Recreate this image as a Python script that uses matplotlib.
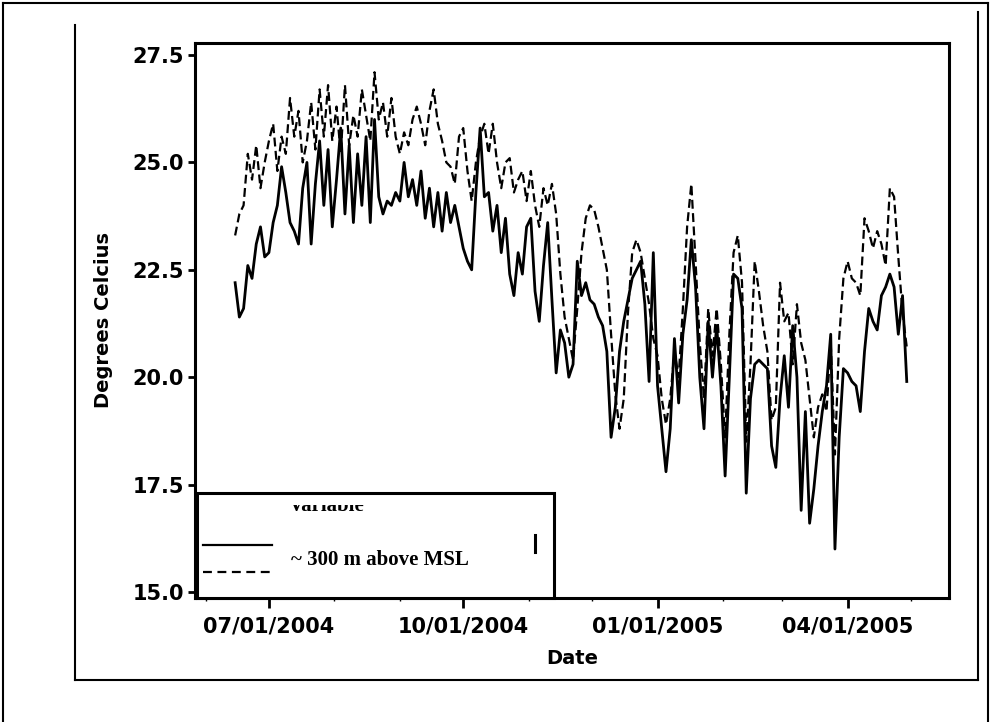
import numpy as np
import pandas as pd
import matplotlib
matplotlib.use("Agg")
import matplotlib.pyplot as plt
import matplotlib.dates as mdates
from matplotlib.lines import Line2D
from matplotlib.patches import Rectangle

# readings every second day, 15 Jun 2004 - 29 Apr 2005
dates = pd.date_range("2004-06-15", periods=160, freq="2D")

temp_solid = [
    22.2, 21.4, 21.6, 22.6, 22.3, 23.1, 23.5, 22.8, 22.9, 23.6,
    24.0, 24.9, 24.3, 23.6, 23.4, 23.1, 24.4, 25.0, 23.1, 24.5,
    25.5, 24.0, 25.3, 23.5, 24.6, 25.8, 23.8, 25.4, 23.6, 25.2,
    24.0, 25.6, 23.6, 26.0, 24.2, 23.8, 24.1, 24.0, 24.3, 24.1,
    25.0, 24.2, 24.6, 24.0, 24.8, 23.7, 24.4, 23.5, 24.3, 23.4,
    24.3, 23.6, 24.0, 23.5, 23.0, 22.7, 22.5, 24.3, 25.8, 24.2,
    24.3, 23.4, 24.0, 22.9, 23.7, 22.4, 21.9, 22.9, 22.4, 23.5,
    23.7, 22.0, 21.3, 22.6, 23.6, 21.8, 20.1, 21.1, 20.8, 20.0,
    20.3, 22.7, 21.9, 22.2, 21.8, 21.7, 21.4, 21.2, 20.6, 18.6,
    19.3, 20.6, 21.3, 21.8, 22.3, 22.5, 22.7, 21.7, 19.9, 22.9,
    19.8, 18.8, 17.8, 18.8, 20.9, 19.4, 21.0, 21.8, 23.2, 22.1,
    20.0, 18.8, 21.3, 20.0, 21.2, 19.8, 17.7, 20.0, 22.4, 22.3,
    21.6, 17.3, 19.5, 20.3, 20.4, 20.3, 20.2, 18.4, 17.9, 19.5,
    20.5, 19.3, 21.2, 20.0, 16.9, 19.2, 16.6, 17.4, 18.4, 19.2,
    19.8, 21.0, 16.0, 18.6, 20.2, 20.1, 19.9, 19.8, 19.2, 20.6,
    21.6, 21.3, 21.1, 21.9, 22.1, 22.4, 22.1, 21.0, 21.9, 19.9,
]

temp_dashed = [
    23.3, 23.8, 24.0, 25.2, 24.6, 25.4, 24.4, 25.0, 25.5, 25.9,
    24.8, 25.6, 25.2, 26.5, 25.6, 26.2, 25.0, 25.5, 26.4, 25.3,
    26.7, 25.6, 26.8, 25.5, 26.3, 25.2, 26.8, 25.4, 26.1, 25.6,
    26.7, 26.1, 25.5, 27.1, 26.0, 26.4, 25.6, 26.5, 25.6, 25.2,
    25.7, 25.4, 26.0, 26.3, 25.9, 25.4, 26.2, 26.7, 25.9, 25.5,
    25.0, 24.9, 24.5, 25.6, 25.8, 24.8, 24.1, 25.0, 25.6, 25.9,
    25.2, 25.9, 25.0, 24.4, 25.0, 25.1, 24.3, 24.6, 24.8, 24.1,
    24.8, 24.0, 23.5, 24.4, 24.0, 24.5, 23.8, 22.4, 21.4, 20.9,
    20.4, 21.6, 22.9, 23.7, 24.0, 23.9, 23.5, 23.0, 22.5, 21.0,
    19.6, 18.8, 19.5, 21.5, 22.9, 23.2, 22.9, 22.3, 21.7, 20.9,
    20.5, 19.5, 18.9, 19.5, 20.6, 20.0, 21.6, 23.5, 24.5, 22.7,
    20.8, 19.5, 21.6, 20.5, 21.6, 20.3, 18.6, 21.0, 22.9, 23.3,
    22.2, 18.5, 20.3, 22.7, 22.0, 21.2, 20.6, 19.0, 19.3, 22.2,
    21.3, 21.5, 20.3, 21.7, 20.8, 20.4, 19.5, 18.6, 19.3, 19.6,
    19.2, 20.8, 18.2, 20.9, 22.3, 22.7, 22.3, 22.2, 21.9, 23.7,
    23.4, 23.0, 23.4, 23.1, 22.6, 24.4, 24.2, 22.8, 21.5, 20.7,
]

y_ticks = [15.0, 17.5, 20.0, 22.5, 25.0, 27.5]
x_ticks = ["2004-07-01", "2004-10-01", "2005-01-01", "2005-04-01"]
legend_label = "~ 300 m above MSL"


def main():
    fig = plt.figure(figsize=(9.92, 7.22), dpi=100)
    ax = fig.add_axes([195 / 992, 1 - 598 / 722, 754 / 992, 555 / 722])

    ax.plot(dates, temp_dashed, color="black", lw=1.6, linestyle=(0, (4, 2)))
    ax.plot(dates, temp_solid, color="black", lw=2.0)

    ax.set_ylim(14.86, 27.78)
    ax.set_xlim(pd.Timestamp("2004-05-27"), pd.Timestamp("2005-05-19"))
    ax.set_yticks(y_ticks)
    ax.set_yticklabels([f"{v:.1f}" for v in y_ticks])
    ax.set_xticks([pd.Timestamp(d) for d in x_ticks])
    ax.xaxis.set_major_formatter(mdates.DateFormatter("%m/%d/%Y"))
    ax.xaxis.set_minor_locator(mdates.MonthLocator())

    for s in ax.spines.values():
        s.set_linewidth(2.2)
    ax.tick_params(axis="both", which="major", direction="out", length=5,
                   width=2, labelsize=15, pad=3)
    ax.tick_params(axis="x", which="major", length=7, pad=6)
    ax.tick_params(axis="x", which="minor", length=2, width=1)
    for lab in ax.get_xticklabels() + ax.get_yticklabels():
        lab.set_fontweight("bold")

    ax.set_xlabel("Date", fontsize=14, fontweight="bold", labelpad=9)
    ax.set_ylabel("Degrees Celcius", fontsize=14, fontweight="bold", labelpad=14)

    # legend box (scan cuts off the top of the title)
    ax.add_patch(Rectangle((0.003, 0.0), 0.473, 0.189, transform=ax.transAxes,
                           fill=True, facecolor="white", edgecolor="black",
                           lw=2.2, zorder=5, clip_on=False))
    ax.add_line(Line2D([0.011, 0.102], [0.0955, 0.0955], transform=ax.transAxes,
                       color="black", lw=1.6, zorder=6))
    ax.add_line(Line2D([0.011, 0.102], [0.047, 0.047], transform=ax.transAxes,
                       color="black", lw=1.6, linestyle=(0, (4, 2.5)), zorder=6))
    ax.text(0.127, 0.068, legend_label, transform=ax.transAxes, fontsize=15,
            family="Liberation Serif", fontweight="bold", va="center", zorder=6)
    title = ax.text(0.175, 0.156, "Variable", transform=ax.transAxes, fontsize=15,
                    family="Liberation Serif", fontweight="bold", ha="center",
                    va="baseline", zorder=6, clip_on=True)
    clip = Rectangle((0.1, 0.1), 0.2, 0.0676, transform=ax.transAxes)
    title.set_clip_path(clip)
    ax.add_line(Line2D([0.451, 0.451], [0.082, 0.113], transform=ax.transAxes,
                       color="black", lw=2.2, zorder=6))

    # frames from the scanned page
    def fline(x, y, lw=1.5):
        fig.add_artist(Line2D([v / 992 for v in x], [1 - v / 722 for v in y],
                              color="black", lw=lw))

    fline([3, 3], [3, 722])
    fline([3, 988], [3, 3])
    fline([988, 988], [3, 722])
    fline([75, 75], [25, 680])
    fline([75, 978], [680, 680])
    fline([978, 978], [12, 680])

    fig.savefig("out.png", dpi=100, facecolor="white")
    plt.close(fig)


if __name__ == "__main__":
    main()
